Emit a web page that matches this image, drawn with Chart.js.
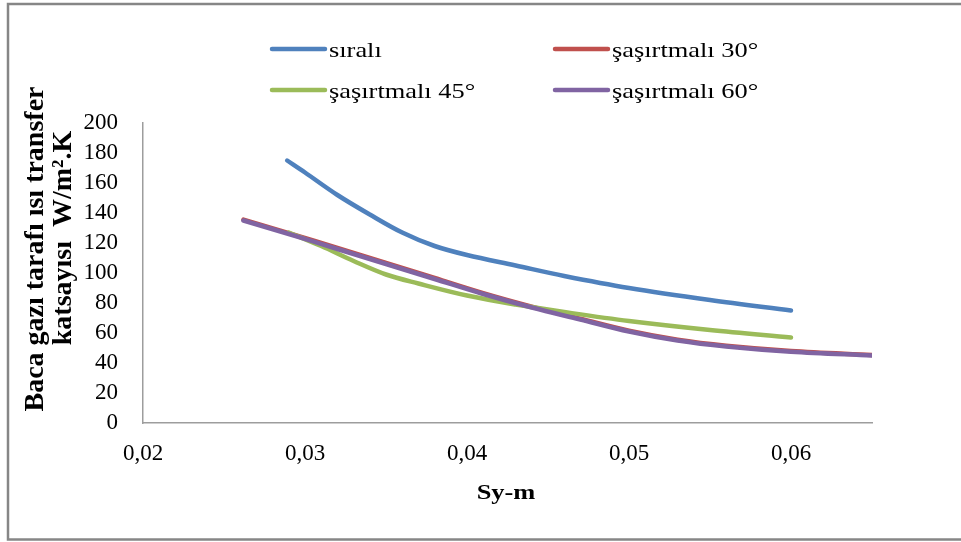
<!DOCTYPE html>
<html>
<head>
<meta charset="utf-8">
<script src="https://cdn.jsdelivr.net/npm/chart.js@4"></script>
<style>
  html, body { margin: 0; padding: 0; background: #fff; }
  #chart { display: block; }
</style>
</head>
<body>
<canvas id="chart" width="961" height="542"></canvas>
<script>
// values
const seriesNames = ['sıralı', 'şaşırtmalı 30°', 'şaşırtmalı 45°', 'şaşırtmalı 60°'];
const seriesColors = ['#4F81BD', '#C0504D', '#9BBB59', '#8064A2'];

const siraliX = [0.0289, 0.030, 0.032, 0.034, 0.036, 0.038, 0.040, 0.043, 0.046, 0.050, 0.055, 0.060];
const siraliY = [175, 167, 152, 139, 127, 118, 112, 105, 98, 90, 82, 75];

const sas30X = [0.0262, 0.029, 0.032, 0.035, 0.038, 0.041, 0.044, 0.047, 0.050, 0.053, 0.056, 0.060, 0.065];
const sas30Y = [135.6, 126.6, 116.7, 106.7, 96.7, 86.6, 77.6, 69.5, 61.5, 55.5, 51.5, 48, 45.3];

const sas45X = [0.029, 0.031, 0.033, 0.035, 0.037, 0.040, 0.043, 0.046, 0.050, 0.055, 0.060];
const sas45Y = [127, 118, 108, 99, 93, 85, 79, 74, 68, 62, 57];

const sas60X = [0.0262, 0.029, 0.032, 0.035, 0.038, 0.041, 0.044, 0.047, 0.050, 0.053, 0.056, 0.060, 0.065];
const sas60Y = [135, 126, 116, 106, 96, 86, 77, 69, 61, 55, 51, 47.5, 45];

const xTicks = [0.02, 0.03, 0.04, 0.05, 0.06];
const yTicks = [0, 20, 40, 60, 80, 100, 120, 140, 160, 180, 200];

const xTitle = 'Sy-m';
const yTitle = ['Baca gazı tarafı ısı transfer', 'katsayısı  W/m².K'];

const serif = '"Liberation Serif", "Times New Roman", serif';

function toPoints(xs, ys) {
    return xs.map((x, i) => ({ x: x, y: ys[i] }));
}

function wideText(ctx, text, x, y, sx) {
    ctx.save();
    ctx.translate(x, y);
    ctx.scale(sx, 1);
    ctx.fillText(text, 0, 0);
    ctx.restore();
}

// frame, legend and axis titles
const decor = {
    id: 'decor',
    afterDraw(chart) {
        const ctx = chart.ctx;
        ctx.save();

        ctx.strokeStyle = '#868686';
        ctx.lineWidth = 2.5;
        ctx.beginPath();
        ctx.moveTo(975, 4);
        ctx.lineTo(8, 4);
        ctx.lineTo(8, 539.5);
        ctx.lineTo(975, 539.5);
        ctx.stroke();

        // legend, two columns
        const spots = [[272, 49], [555, 49], [272, 90], [555, 90]];
        ctx.font = '22px ' + serif;
        ctx.textAlign = 'left';
        ctx.textBaseline = 'alphabetic';
        ctx.fillStyle = '#000';
        chart.data.datasets.forEach((ds, i) => {
            const [lx, ly] = spots[i];
            ctx.strokeStyle = ds.borderColor;
            ctx.lineWidth = 4.5;
            ctx.lineCap = 'round';
            ctx.beginPath();
            ctx.moveTo(lx, ly);
            ctx.lineTo(lx + 53, ly);
            ctx.stroke();
            wideText(ctx, ds.label, lx + 57, ly + 8, 1.2);
        });

        // x title
        ctx.font = 'bold 22px ' + serif;
        ctx.textAlign = 'center';
        wideText(ctx, xTitle, 506, 499, 1.2);

        // y title, rotated
        ctx.font = 'bold 28px ' + serif;
        const lines = [[43, 249], [71, 238]];
        yTitle.forEach((t, i) => {
            ctx.save();
            ctx.translate(lines[i][0], lines[i][1]);
            ctx.rotate(-Math.PI / 2);
            ctx.fillText(t, 0, 0);
            ctx.restore();
        });

        ctx.restore();
    }
};

const allX = [siraliX, sas30X, sas45X, sas60X];
const allY = [siraliY, sas30Y, sas45Y, sas60Y];

const datasets = seriesNames.map((name, i) => ({
    label: name,
    data: toPoints(allX[i], allY[i]),
    borderColor: seriesColors[i],
    backgroundColor: seriesColors[i],
    borderWidth: 4.5,
    showLine: true,
    pointRadius: 0,
    tension: 0.35,
    borderCapStyle: 'round',
    order: 4 - i
}));

new Chart(document.getElementById('chart'), {
    type: 'scatter',
    data: { datasets: datasets },
    plugins: [decor],
    options: {
        responsive: false,
        animation: false,
        layout: { padding: { top: 123, right: 89, bottom: 0, left: 0 } },
        plugins: {
            legend: { display: false },
            tooltip: { enabled: false }
        },
        scales: {
            x: {
                type: 'linear',
                min: 0.02,
                max: 0.065,
                afterFit: s => { s.height = 119; },
                afterBuildTicks: s => { s.ticks = xTicks.map(v => ({ value: v })); },
                grid: { drawOnChartArea: false, drawTicks: false },
                border: { color: '#9d9d9d', width: 1.5 },
                ticks: {
                    padding: 17,
                    autoSkip: false,
                    maxRotation: 0,
                    color: '#000',
                    font: { family: serif, size: 23 },
                    callback: v => v.toFixed(2).replace('.', ',')
                }
            },
            y: {
                min: 0,
                max: 200,
                afterFit: s => { s.width = 143; },
                afterBuildTicks: s => { s.ticks = yTicks.map(v => ({ value: v })); },
                grid: { drawOnChartArea: false, drawTicks: false },
                border: { color: '#9d9d9d', width: 1.5 },
                ticks: {
                    padding: 25,
                    autoSkip: false,
                    color: '#000',
                    font: { family: serif, size: 23 }
                }
            }
        }
    }
});
</script>
</body>
</html>
